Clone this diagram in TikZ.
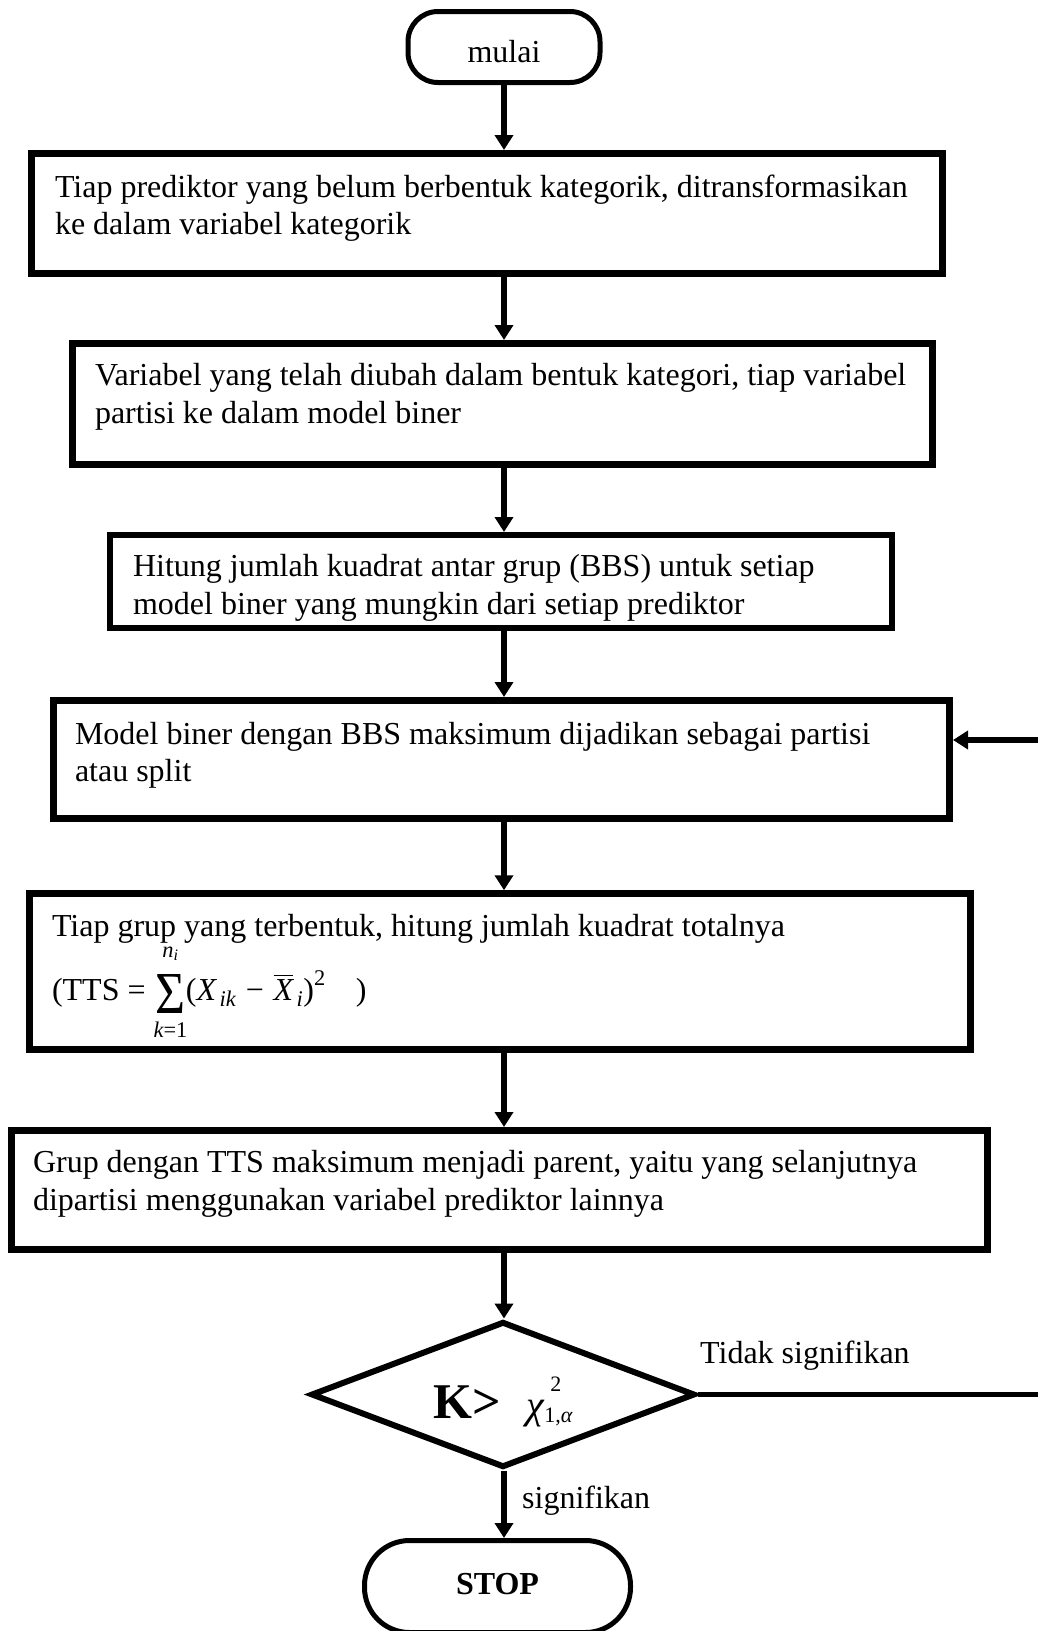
\documentclass[tikz,border=0pt]{standalone}
\usepackage{fontspec}
\usepackage{amsmath}
\usepackage{graphicx}
\setmainfont{Liberation Serif}
\usetikzlibrary{arrows.meta,shapes.geometric}
\newcommand\bxt[5]{\parbox[c][#2][t]{#1}{\raggedright\leftskip=#4\relax\baselineskip=37.5pt\relax\rule{0pt}{#3}#5\par}}
\newcommand\ti[1]{\text{\itshape #1}}
\newcommand\tr[1]{\text{#1}}
\newcommand\bigsig{\mathop{\vcenter{\hbox{\resizebox{30pt}{39pt}{Σ}}}}\limits}
\begin{document}
\begin{tikzpicture}[x=1pt,y=-1pt,
  every node/.style={font=\fontsize{32}{37.5}\selectfont},
  box/.style={draw, line width=7pt, inner sep=0pt},
  term/.style={draw, line width=5pt, inner sep=0pt, text height=30pt, text depth=0pt},
  arr/.style={line width=5.5pt, -{Triangle[length=15pt,width=18pt]}},
  lbl/.style={anchor=base west, inner sep=0pt}]
\useasboundingbox (0,0) rectangle (1038,1631);

\node[term, rounded corners=30pt, minimum width=192pt, minimum height=71pt] (start) at (504,47) {mulai};

\node[box] (b1) at (487,213.5) {\bxt{911pt}{120pt}{43.5pt}{23.5pt}{\mbox{Tiap prediktor yang belum berbentuk kategorik, ditransformasikan}\\\mbox{ke dalam variabel kategorik}}};

\node[box] (b2) at (502.5,404) {\bxt{860pt}{121pt}{42pt}{22.5pt}{\mbox{Variabel yang telah diubah dalam bentuk kategori, tiap variabel}\\\mbox{partisi ke dalam model biner}}};

\node[box, line width=6pt] (b3) at (501,581.5) {\bxt{782pt}{93pt}{41.7pt}{23pt}{\mbox{Hitung jumlah kuadrat antar grup (BBS) untuk setiap}\\\mbox{model biner yang mungkin dari setiap prediktor}}};

\node[box] (b4) at (501.5,759.5) {\bxt{896pt}{118pt}{43.5pt}{21.5pt}{\mbox{Model biner dengan BBS maksimum dijadikan sebagai partisi}\\\mbox{atau split}}};

\node[box, line width=6.5pt] (b5) at (500,971.5) {\bxt{941pt}{156pt}{42.5pt}{22.5pt}{\mbox{Tiap grup yang terbentuk, hitung jumlah kuadrat totalnya}\par\baselineskip=64pt\relax
\mbox{(TTS = $\bigsig_{\ti{k}\tr{=1}\rule{0pt}{20pt}}^{\ti{n}_{\ti{i}}\rule[-14pt]{0pt}{14pt}}\mkern-4mu\tr{(}\ti{X}_{\,\ti{ik}} \mathbin{\,\tr{−}\,} \overline{\ti{X}}_{\,\ti{i}}\tr{)}^{\tr{2}}$\hspace{30pt})}}};

\node[box] (b6) at (499.5,1190) {\bxt{976pt}{119pt}{42pt}{21.5pt}{\mbox{Grup dengan TTS maksimum menjadi parent, yaitu yang selanjutnya}\\\mbox{dipartisi menggunakan variabel prediktor lainnya}}};

\node[draw, diamond, aspect=2.63, line width=6pt, inner sep=0pt, minimum width=384pt, minimum height=146pt, text height=48pt, text depth=0pt] (d) at (503,1394.5)
 {\fontsize{50}{50}\selectfont\textbf{K>}\hspace{26pt}{\fontsize{40}{40}\selectfont\itshape χ}\makebox[0pt][l]{\hspace{6pt}\raisebox{27pt}{\fontsize{22}{22}\selectfont 2}}{\fontsize{22}{22}\selectfont\raisebox{-3.5pt}{1,\itshape α}}\hspace{12pt}};

\node[term, rounded corners=45pt, minimum width=266pt, minimum height=92pt, text height=16pt, font=\fontsize{32}{37.5}\selectfont\bfseries] (stop) at (497.5,1586.5) {STOP};

\node[lbl] (ts) at (700,1363) {Tidak signifikan};
\node[lbl] (sg) at (522,1508) {signifikan};

\draw[arr] (start.south) -- (start.south |- b1.north);
\draw[arr] (start.south |- b1.south) -- (start.south |- b2.north);
\draw[arr] (start.south |- b2.south) -- (start.south |- b3.north);
\draw[arr] (start.south |- b3.south) -- (start.south |- b4.north);
\draw[arr] (start.south |- b4.south) -- (start.south |- b5.north);
\draw[arr] (start.south |- b5.south) -- (start.south |- b6.north);
\draw[arr] (start.south |- b6.south) -- (start.south |- d.north);
\draw[arr] (start.south |- d.south) -- (start.south |- stop.north);

\coordinate (fb) at (1050,740);
\draw[arr] (d.east) -| (fb) -- (fb -| b4.east);
\end{tikzpicture}
\end{document}
